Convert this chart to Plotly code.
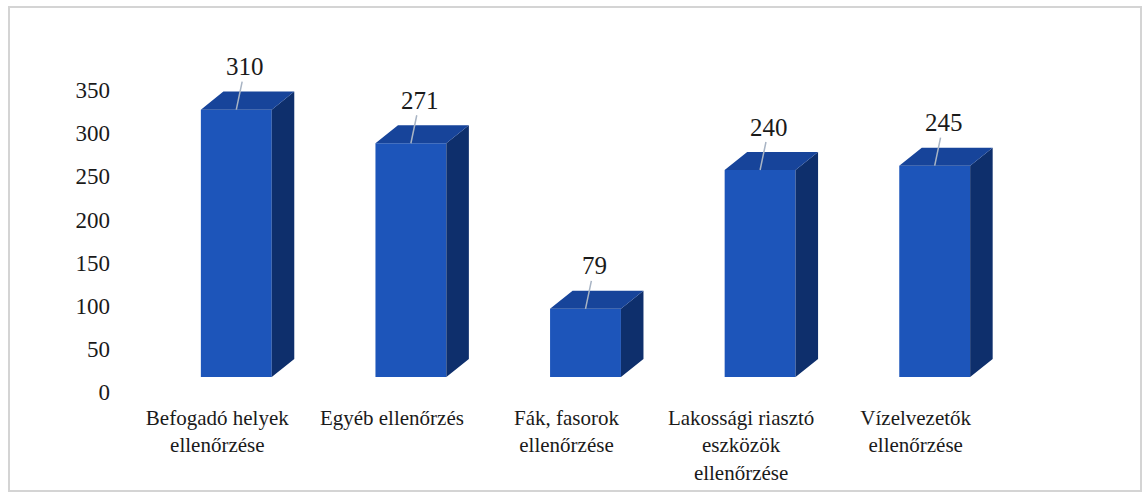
import plotly.graph_objects as go

categories = ["Befogadó helyek<br>ellenőrzése", "Egyéb ellenőrzés", "Fák, fasorok<br>ellenőrzése",
              "Lakossági riasztó<br>eszközök<br>ellenőrzése", "Vízelvezetők<br>ellenőrzése"]
values = [310, 271, 79, 240, 245]
y_ticks = [0, 50, 100, 150, 200, 250, 300, 350]

# styling
W, H = 1143, 497
ML, MR, MT, MB = 149, 121, 32, 120
BAR_W = 0.406
DX = 0.129     # depth offset (category units)
DY = 20.9      # depth offset (value units)
FRONT = "#1D55BA"
TOP = "#17449A"
SIDE = "#0E2F6C"
TXT = "#1a1a1a"
FONT = "Liberation Serif"

xs = list(range(len(values)))

fig = go.Figure()
fig.add_trace(go.Bar(x=xs, y=values, width=BAR_W, marker=dict(color=FRONT, line=dict(width=0)),
                     hoverinfo="skip"))

sx, sy, tx, ty = [], [], [], []
for i, v in zip(xs, values):
    r = i + BAR_W / 2
    l = i - BAR_W / 2
    sx += [r, r + DX, r + DX, r, r, None]
    sy += [0, DY, v + DY, v, 0, None]
    tx += [l, l + DX, r + DX, r, l, None]
    ty += [v, v + DY, v + DY, v, v, None]

fig.add_trace(go.Scatter(x=sx, y=sy, mode="lines", fill="toself", fillcolor=SIDE,
                         line=dict(width=0, color=SIDE), hoverinfo="skip"))
fig.add_trace(go.Scatter(x=tx, y=ty, mode="lines", fill="toself", fillcolor=TOP,
                         line=dict(width=0, color=TOP), hoverinfo="skip"))

for i, v in zip(xs, values):
    fig.add_annotation(x=i, y=v, text=str(v), showarrow=True, arrowhead=0, arrowwidth=1.5,
                       arrowcolor="#a8b4c4", ax=9, ay=-43, standoff=0,
                       font=dict(family=FONT, size=25, color=TXT))

pw = W - ML - MR
ph = H - MT - MB
fig.add_shape(type="rect", xref="paper", yref="paper",
              x0=(9 - ML) / pw, x1=(1141 - ML) / pw,
              y0=(H - MB - 491) / ph, y1=(H - MB - 7) / ph,
              line=dict(color="#d4d4d4", width=2), fillcolor="rgba(0,0,0,0)", layer="below")

fig.update_layout(
    width=W, height=H, margin=dict(l=ML, r=MR, t=MT, b=MB),
    paper_bgcolor="white", plot_bgcolor="white", showlegend=False,
    font=dict(family=FONT, color=TXT),
    xaxis=dict(range=[-0.5, 4.5], tickvals=xs, ticktext=categories, showgrid=False,
               zeroline=False, showline=False, ticks="", tickfont=dict(size=21, family=FONT, color=TXT),
               ticklabelshift=-19, ticklabelstandoff=26, fixedrange=True),
    yaxis=dict(range=[0, 400], tickvals=y_ticks, showgrid=False, zeroline=False, showline=False,
               ticks="", tickfont=dict(size=23, family=FONT, color=TXT),
               ticklabelshift=15, ticklabelstandoff=38, fixedrange=True),
)

fig.write_html("out.html", config={"displayModeBar": False},
               post_script="document.body.style.margin='0';document.body.style.overflow='hidden';")
